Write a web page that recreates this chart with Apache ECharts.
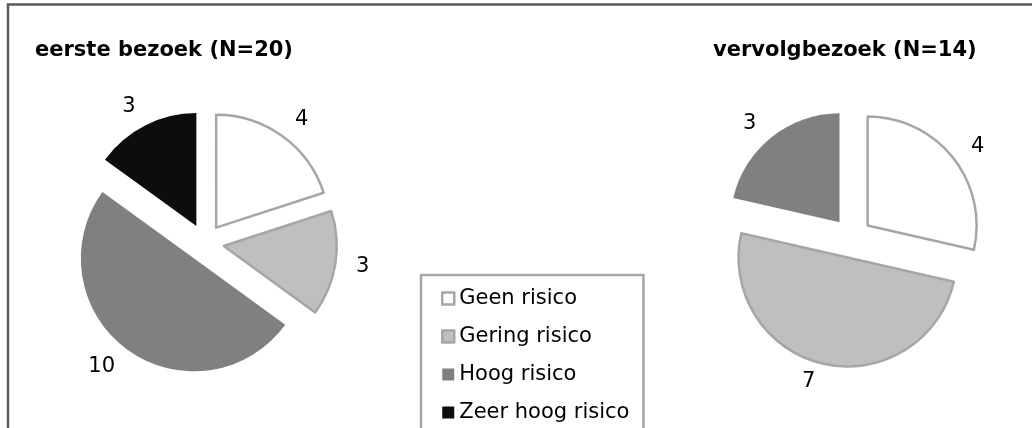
<!DOCTYPE html>
<html>
<head>
<meta charset="utf-8">
<script src="https://cdn.jsdelivr.net/npm/echarts@6/dist/echarts.min.js"></script>
<style>
  html, body { margin: 0; padding: 0; background: #fff; }
  #chart { width: 1032px; height: 428px; }
</style>
</head>
<body>
<div id="chart"></div>
<script>
// risk categories, shared by both pies
var categories = ['Geen risico', 'Gering risico', 'Hoog risico', 'Zeer hoog risico'];
// counts per category
var eersteValues = [4, 3, 10, 3];
var vervolgValues = [4, 7, 3];
var eersteTitle = 'eerste bezoek (N=20)';
var vervolgTitle = 'vervolgbezoek (N=14)';

// styling per category
var fills = ['#ffffff', '#bfbfbf', '#808080', '#0d0d0d'];
var borders = ['#a6a6a6', '#a6a6a6', null, null];

var font = 'DejaVu Sans, Verdana, sans-serif';

function sliceStyle(i, w) {
    return {
        color: fills[i],
        borderColor: borders[i] || fills[i],
        borderWidth: borders[i] ? w : 0
    };
}

function slices(values) {
    return values.map(function (v, i) {
        var st = sliceStyle(i, 2.5);
        return {
            name: categories[i],
            value: v,
            selected: true,
            itemStyle: st,
            select: { itemStyle: st }
        };
    });
}

function pie(center, radius, offset, lineLen, lineLen2, values) {
    return {
        type: 'pie',
        center: center,
        radius: radius,
        startAngle: 90,
        clockwise: true,
        selectedMode: 'multiple',
        selectedOffset: offset,
        avoidLabelOverlap: false,
        emphasis: { disabled: true, scale: false },
        label: {
            position: 'outside',
            formatter: '{c}',
            fontSize: 21,
            fontFamily: font,
            color: '#000',
            distanceToLabelLine: 0
        },
        labelLine: { show: false, length: lineLen, length2: lineLen2 },
        data: slices(values)
    };
}

var chart = echarts.init(document.getElementById('chart'));

var titleStyle = { fontSize: 21, fontWeight: 'bold', fontFamily: font, color: '#000' };

var option = {
    animation: false,
    backgroundColor: '#fff',
    textStyle: { fontFamily: font },
    title: [
        { text: eersteTitle, left: 35, top: 40, padding: 0, textStyle: titleStyle },
        { text: vervolgTitle, left: 713, top: 40, padding: 0, textStyle: titleStyle }
    ],
    legend: {
        data: categories.map(function (name, i) {
            return { name: name, itemStyle: sliceStyle(i, 2.5) };
        }),
        orient: 'vertical',
        left: 421,
        top: 275,
        height: 300,
        icon: 'rect',
        itemWidth: 12,
        itemHeight: 12,
        itemGap: 17,
        selectedMode: false,
        padding: [13, 14, 10, 20],
        borderColor: '#a6a6a6',
        borderWidth: 2.5,
        textStyle: { fontSize: 21, fontFamily: font, color: '#000' }
    },
    graphic: [{
        type: 'polyline',
        silent: true,
        shape: { points: [[8, 440], [8, 4.5], [1040, 4.5]] },
        style: { stroke: '#5a5a5a', lineWidth: 2.5, fill: null }
    }],
    series: [
        pie([205, 243], 113, 19, 21, 0, eersteValues),
        pie([852, 238], 109, 20, 18, 4, vervolgValues)
    ]
};

chart.setOption(option);
</script>
</body>
</html>
